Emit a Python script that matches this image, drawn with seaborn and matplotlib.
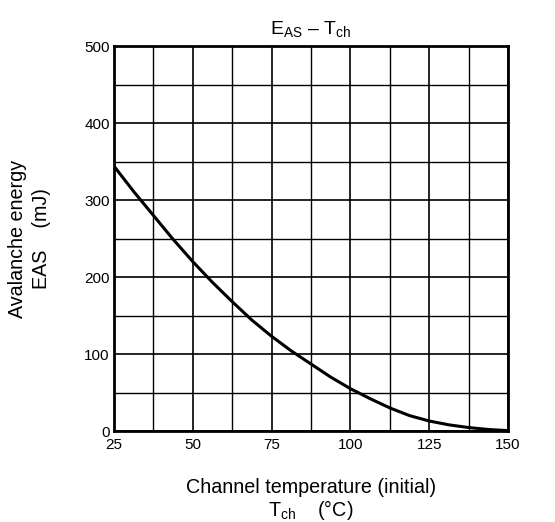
import numpy as np
import pandas as pd
import matplotlib
matplotlib.use("Agg")
import matplotlib.pyplot as plt
from matplotlib.ticker import MultipleLocator
import seaborn as sns

# Values
tch = [25, 31.25, 37.5, 43.75, 50, 56.25, 62.5, 68.75, 75, 81.25, 87.5,
       93.75, 100, 106.25, 112.5, 118.75, 125, 131.25, 137.5, 143.75, 150]
eas = [344, 311, 280, 249, 220, 193, 168, 144, 123, 104, 87,
       70, 55, 42, 30, 20, 13, 8, 4.5, 2, 0.5]

x_ticks = [25, 50, 75, 100, 125, 150]
y_ticks = [0, 100, 200, 300, 400, 500]

df = pd.DataFrame({"Tch": tch, "EAS": eas})

sns.set_theme(style="white")
plt.rcParams['font.family'] = ['Liberation Sans', 'DejaVu Sans']
plt.rcParams['mathtext.fontset'] = 'custom'
plt.rcParams['mathtext.rm'] = 'Liberation Sans'
plt.rcParams['mathtext.it'] = 'Liberation Sans'

fig = plt.figure(figsize=(5.55, 5.22), dpi=100)
ax = fig.add_axes([0.2054, 0.1743, 0.710, 0.7375])

sns.lineplot(data=df, x="Tch", y="EAS", ax=ax, color="black", lw=2.2, zorder=5)

ax.set_xlim(25, 150)
ax.set_ylim(0, 500)
ax.set_xticks(x_ticks)
ax.set_yticks(y_ticks)
ax.xaxis.set_minor_locator(MultipleLocator(12.5))
ax.yaxis.set_minor_locator(MultipleLocator(50))
ax.grid(which="major", color="black", lw=1.2)
ax.grid(which="minor", color="black", lw=1.0)
ax.tick_params(which="both", length=0, labelsize=11, colors="black")
ax.tick_params(axis="x", pad=5)
ax.tick_params(axis="y", pad=3)
for s in ax.spines.values():
    s.set_color("black")
    s.set_linewidth(2)
    s.set_zorder(6)

ax.set_xlabel("Channel temperature (initial)\n$\\mathregular{T_{ch}}$    (°C)",
              fontsize=14.2, color="black", labelpad=19, linespacing=1.05)
ax.set_ylabel("Avalanche energy\nEAS    (mJ)",
              fontsize=14.2, color="black", labelpad=24, linespacing=1.3)
ax.set_title("$\\mathregular{E_{AS}}$ – $\\mathregular{T_{ch}}$", fontsize=14,
             color="black", pad=9)

fig.savefig("out.png", dpi=100)
